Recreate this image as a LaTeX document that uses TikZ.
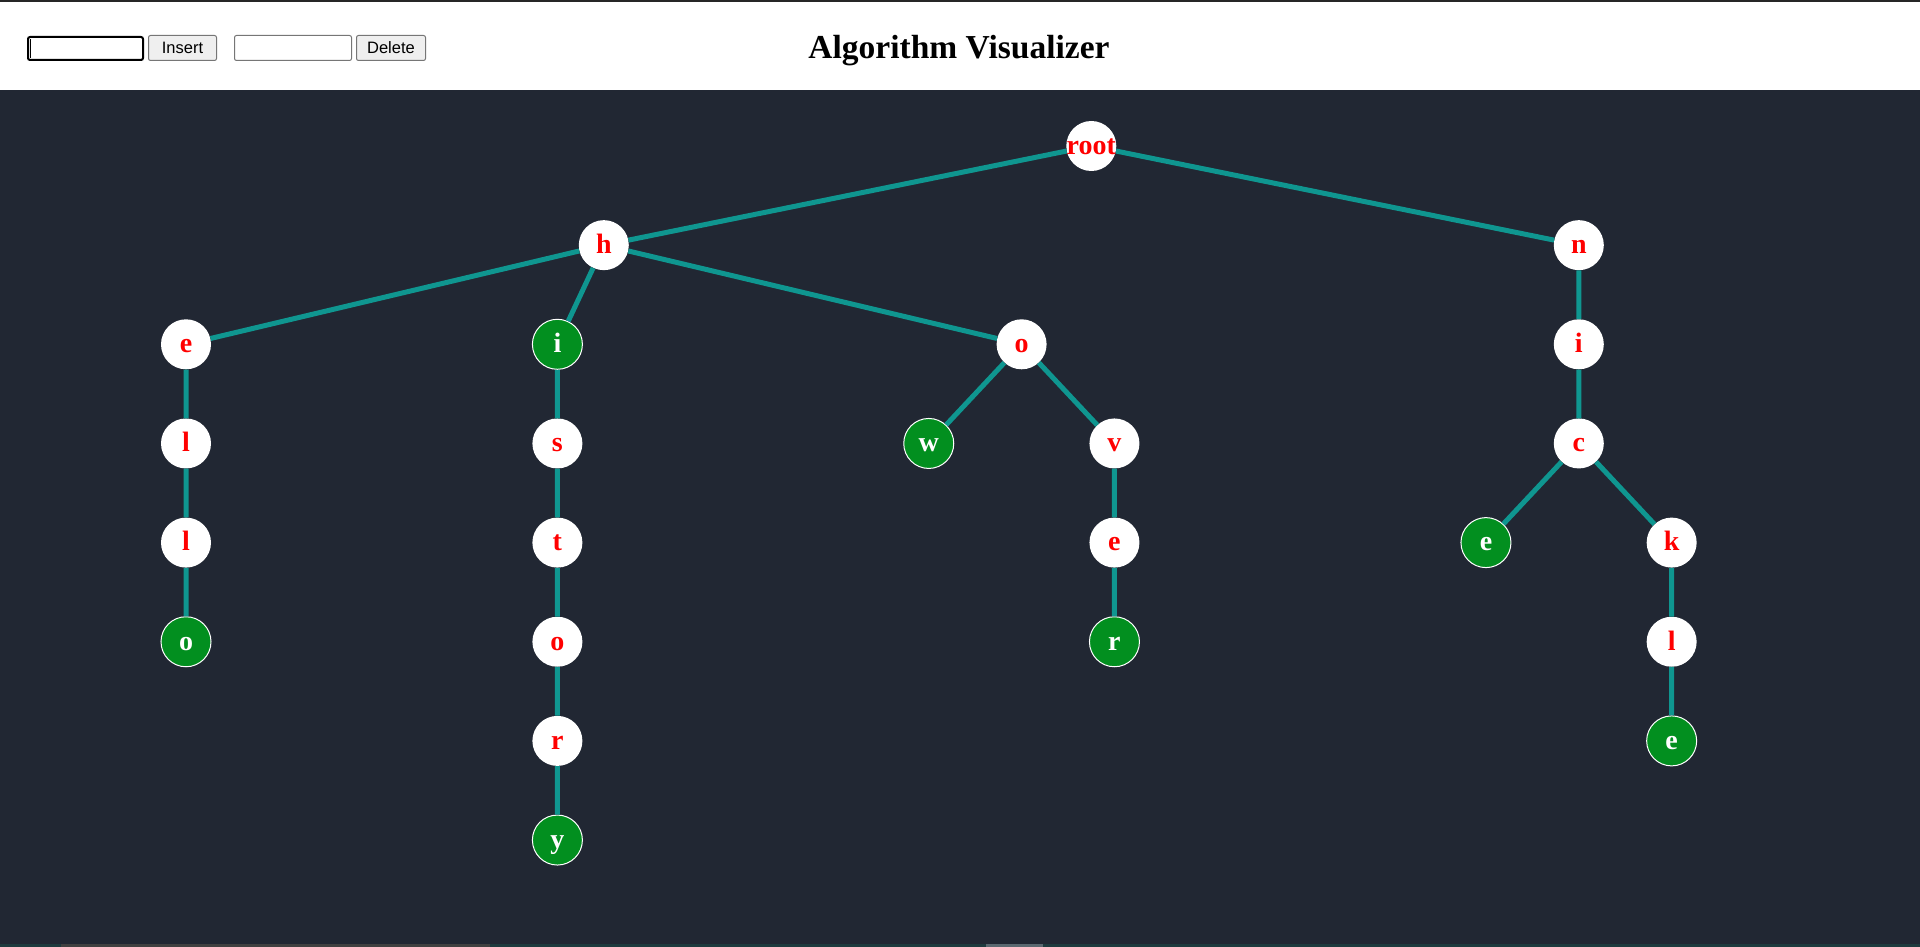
\documentclass[tikz,border=0pt]{standalone}
\usepackage{fontspec}
\setmainfont{Liberation Serif}
\newfontfamily\uifont{Liberation Sans}
\definecolor{pagebg}{HTML}{212733}
\definecolor{edgeteal}{HTML}{0F9690}
\definecolor{endgreen}{HTML}{028F1F}
\definecolor{btngray}{HTML}{EFEFEF}
\definecolor{btnline}{HTML}{767676}
\definecolor{barteal}{HTML}{1E3A3E}
\definecolor{barthumb}{HTML}{5A6870}
\begin{document}
\begin{tikzpicture}[
  trie node/.style={shape=circle, fill=white, text=red, minimum size=50pt, inner sep=0pt,
    font=\fontsize{28}{30}\selectfont\bfseries, text height=16.5pt, text depth=0pt},
  word end/.style={trie node, fill=endgreen, draw=white, line width=1pt, text=white},
  ui box/.style={draw=btnline, line width=1pt, rounded corners=2pt},
  ui button/.style={ui box, fill=btngray, font=\uifont\fontsize{16.5}{18}\selectfont},
  level distance=99.15pt,
  edge from parent/.style={draw=edgeteal, line width=5pt},
  level 1/.style={sibling distance=975pt},
  level 2/.style={sibling distance=417.8pt},
  level 3/.style={sibling distance=185.7pt},
  level 4/.style={sibling distance=185.7pt}
]
  \useasboundingbox (0,0) rectangle (1920pt,-947pt);
  % page
  \fill[pagebg] (0,0) rectangle (1920pt,-947pt);
  \fill[white] (0,-2pt) rectangle (1920pt,-90pt);
  \fill[black!85] (0,0) rectangle (1920pt,-2pt);
  \fill[barteal] (0,-944pt) rectangle (1920pt,-947pt);
  \fill[black!75] (61pt,-944pt) rectangle (490pt,-947pt);
  \fill[barthumb] (986pt,-944pt) rectangle (1043pt,-947pt);

  % header controls
  \node[draw=black, line width=2pt, rounded corners=2pt, minimum width=115pt, minimum height=23pt,
    anchor=north west] (ins box) at (27pt,-36pt) {};
  \draw[line width=1pt] ([xshift=3pt,yshift=-3pt]ins box.north west) -- ([xshift=3pt,yshift=3pt]ins box.south west);
  \node[ui button, minimum width=68pt, minimum height=25pt, anchor=north west] (ins btn) at (148pt,-35pt) {Insert};
  \node[ui box, minimum width=117pt, minimum height=25pt, anchor=north west] (del box) at (234pt,-35pt) {};
  \node[ui button, minimum width=69pt, minimum height=25pt, anchor=north west] (del btn) at (356pt,-35pt) {Delete};
  \node[anchor=base, font=\fontsize{33.5}{36}\selectfont\bfseries] (title) at (959pt,-59pt) {Algorithm Visualizer};

  % trie
  \node[trie node, inner sep=-2pt] (root) at (1091.3pt,-146pt) {root}
  child {node[trie node] (h) {h}
    child {node[trie node] (he) {e}
      child {node[trie node] (hel) {l}
        child {node[trie node] (hell) {l}
          child {node[word end] (hello) {o}}
        }
      }
    }
    child[xshift=-46.4pt] {node[word end] (hi) {i}
      child {node[trie node] (his) {s}
        child {node[trie node] (hist) {t}
          child {node[trie node] (histo) {o}
            child {node[trie node] (histor) {r}
              child {node[word end] (history) {y}}
            }
          }
        }
      }
    }
    child {node[trie node] (ho) {o}
      child {node[word end] (how) {w}}
      child {node[trie node] (hov) {v}
        child {node[trie node] (hove) {e}
          child {node[word end] (hover) {r}}
        }
      }
    }
  }
  child {node[trie node] (n) {n}
    child {node[trie node] (ni) {i}
      child {node[trie node] (nic) {c}
        child {node[word end] (nice) {e}}
        child {node[trie node] (nick) {k}
          child {node[trie node] (nickl) {l}
            child {node[word end] (nickle) {e}}
          }
        }
      }
    }
  };
\end{tikzpicture}
\end{document}
